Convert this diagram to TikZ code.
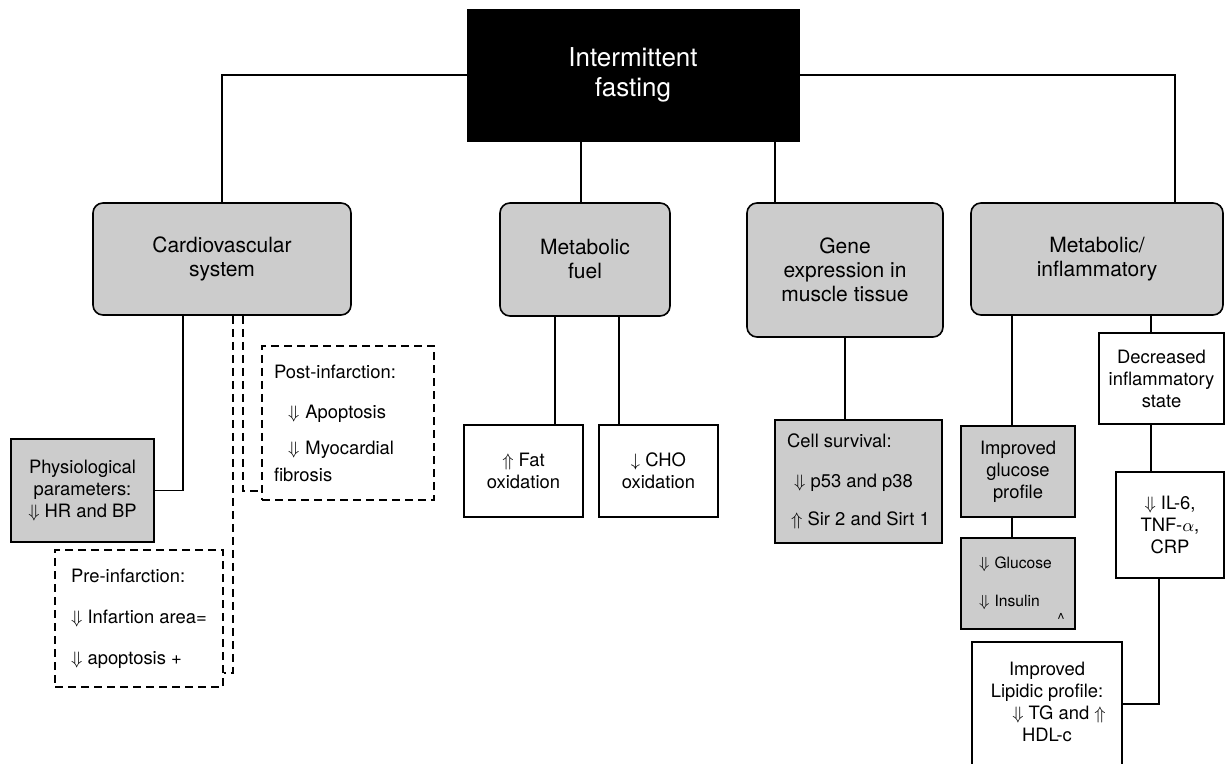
\documentclass[tikz,border=0pt]{standalone}
\usepackage{fontspec}
\setmainfont{TeX Gyre Heros}
\newcommand{\titlefont}{\fontsize{13}{15}\selectfont}
\newcommand{\headfont}{\fontsize{10.5}{12}\selectfont}
\newcommand{\leaffont}{\fontsize{9.2}{11}\selectfont}
\newcommand{\tinyleaf}{\fontsize{7.8}{9.5}\selectfont}
\tikzstyle{topbox} = [rectangle, draw=black, fill=black, text=white, font=\titlefont, align=center]
\tikzstyle{mainbox} = [rectangle, rounded corners=5pt, draw=black, fill=black!20, line width=0.8pt, font=\headfont, align=center]
\tikzstyle{leaf} = [rectangle, draw=black, fill=white, line width=0.8pt, font=\leaffont, align=center]
\tikzstyle{greyleaf} = [leaf, fill=black!20]
\tikzstyle{dashbox} = [rectangle, draw=black, line width=0.6pt, dash pattern=on 4pt off 2.5pt, font=\leaffont]
\tikzstyle{link} = [line width=0.75pt]
\tikzstyle{dashlink} = [line width=0.6pt, dash pattern=on 4pt off 2.5pt]
\begin{document}
\begin{tikzpicture}[x=0.5pt, y=-0.5pt]
\useasboundingbox (0,0) rectangle (1225,764);

        % Nodes
        \node (fast) [topbox, minimum width=166pt, minimum height=66pt] at (633,75) {Intermittent\\fasting};
        \node (cardio) [mainbox, minimum width=129pt, minimum height=56pt] at (222,259) {Cardiovascular\\system};
        \node (fuel) [mainbox, minimum width=85pt, minimum height=56.5pt] at (585,259.5) {Metabolic\\fuel};
        \node (gene) [mainbox, minimum width=98pt, minimum height=67pt] at (845,270) {Gene\\expression in\\muscle tissue};
        \node (meta) [mainbox, minimum width=126pt, minimum height=56pt] at (1097,259) {Metabolic/\\inflammatory};

        \node (phys) [greyleaf, minimum width=71.5pt, minimum height=51.5pt] at (82.5,490.5) {Physiological\\parameters:\\$\Downarrow$ HR and BP};
        \node (post) [dashbox, align=left, text width=74pt, inner xsep=6pt, minimum height=77pt] at (348,423) {Post-infarction:\\[9pt]\hspace*{7pt}$\Downarrow$ Apoptosis\\[7pt]\hspace*{7pt}$\Downarrow$ Myocardial\\[2.5pt]fibrosis};
        \node (pre) [dashbox, align=left, minimum width=84pt, minimum height=68.5pt] at (139,618.5) {Pre-infarction:\\[9.5pt]$\Downarrow$ Infartion area=\\[9.5pt]$\Downarrow$ apoptosis +};

        \node (fat) [leaf, minimum width=59.5pt, minimum height=46pt] at (523.5,471) {$\Uparrow$ Fat\\oxidation};
        \node (cho) [leaf, minimum width=59.5pt, minimum height=46pt] at (658.5,471) {$\downarrow$ CHO\\oxidation};
        \node (cell) [greyleaf, align=left, minimum width=83.5pt, minimum height=61.5pt] at (858.5,481.5) {Cell survival:\\[9pt]\hspace*{3.5pt}$\Downarrow$ p53 and p38\\[8pt]\hspace*{2pt}$\Uparrow$ Sir 2 and Sirt 1};

        \node (gluc) [greyleaf, minimum width=57pt, minimum height=45.5pt] at (1018,471.5) {Improved\\glucose\\profile};
        \node (glin) [greyleaf, align=left, font=\tinyleaf, text width=39pt, inner xsep=9pt, minimum height=45.5pt] at (1018,583.5) {$\Downarrow$ Glucose\\[9.5pt]$\Downarrow$ Insulin};
        \node (caret) [font=\tinyleaf, inner sep=0pt] at (1061,619) {\textasciicircum};
        \node (infl) [leaf, minimum width=62.5pt, minimum height=45.5pt] at (1161.5,378.5) {Decreased\\inflammatory\\state};
        \node (cyto) [leaf, minimum width=54pt, minimum height=53pt] at (1170,525) {$\Downarrow$ IL-6,\\TNF-$\alpha$,\\CRP};
        \node (lipid) [leaf, minimum width=75pt, minimum height=69pt] at (1047,711) {Improved\\Lipidic profile:\\\hspace*{12pt}$\Downarrow$ TG and $\Uparrow$\\HDL-c\\[-2pt]\mbox{}};

        % Attachment points
        \coordinate (fuelin) at ([xshift=-2pt]fuel.north);
        \coordinate (genein) at ([xshift=-35pt]gene.north);
        \coordinate (physout) at ([xshift=-19.5pt]cardio.south);
        \coordinate (postout) at ([xshift=10.5pt]cardio.south);
        \coordinate (preout) at ([xshift=5.5pt]cardio.south);
        \coordinate (fatin) at ([xshift=15.75pt]fat.north);
        \coordinate (choin) at ([xshift=-19.75pt]cho.north);
        \coordinate (glucin) at ([xshift=-3pt]gluc.north);
        \coordinate (inflin) at ([xshift=-5.25pt]infl.north);
        \coordinate (cytoout) at ([xshift=-5.5pt]cyto.south);

        % Lines
        \draw [link] (fast.west) -| (cardio.north);
        \draw [link] (fast.east) -| ([xshift=39pt]meta.north);
        \draw [link] (fuelin |- fast.south) -- (fuelin);
        \draw [link] (genein |- fast.south) -- (genein);

        \draw [link] (physout) |- (phys.east);
        \draw [dashlink] (postout) |- ([yshift=-34pt]post.west);
        \draw [dashlink] (preout) |- ([yshift=-27.25pt]pre.east);

        \draw [link] (fatin |- fuel.south) -- (fatin);
        \draw [link] (choin |- fuel.south) -- (choin);
        \draw [link] (gene.south) -- (gene.south |- cell.north);

        \draw [link] (glucin |- meta.south) -- (glucin);
        \draw [link] (glucin |- gluc.south) -- (glucin |- glin.north);
        \draw [link] (inflin |- meta.south) -- (inflin);
        \draw [link] (inflin |- infl.south) -- (inflin |- cyto.north);
        \draw [link] (cytoout) |- ([yshift=3.5pt]lipid.east);

\end{tikzpicture}
\end{document}
